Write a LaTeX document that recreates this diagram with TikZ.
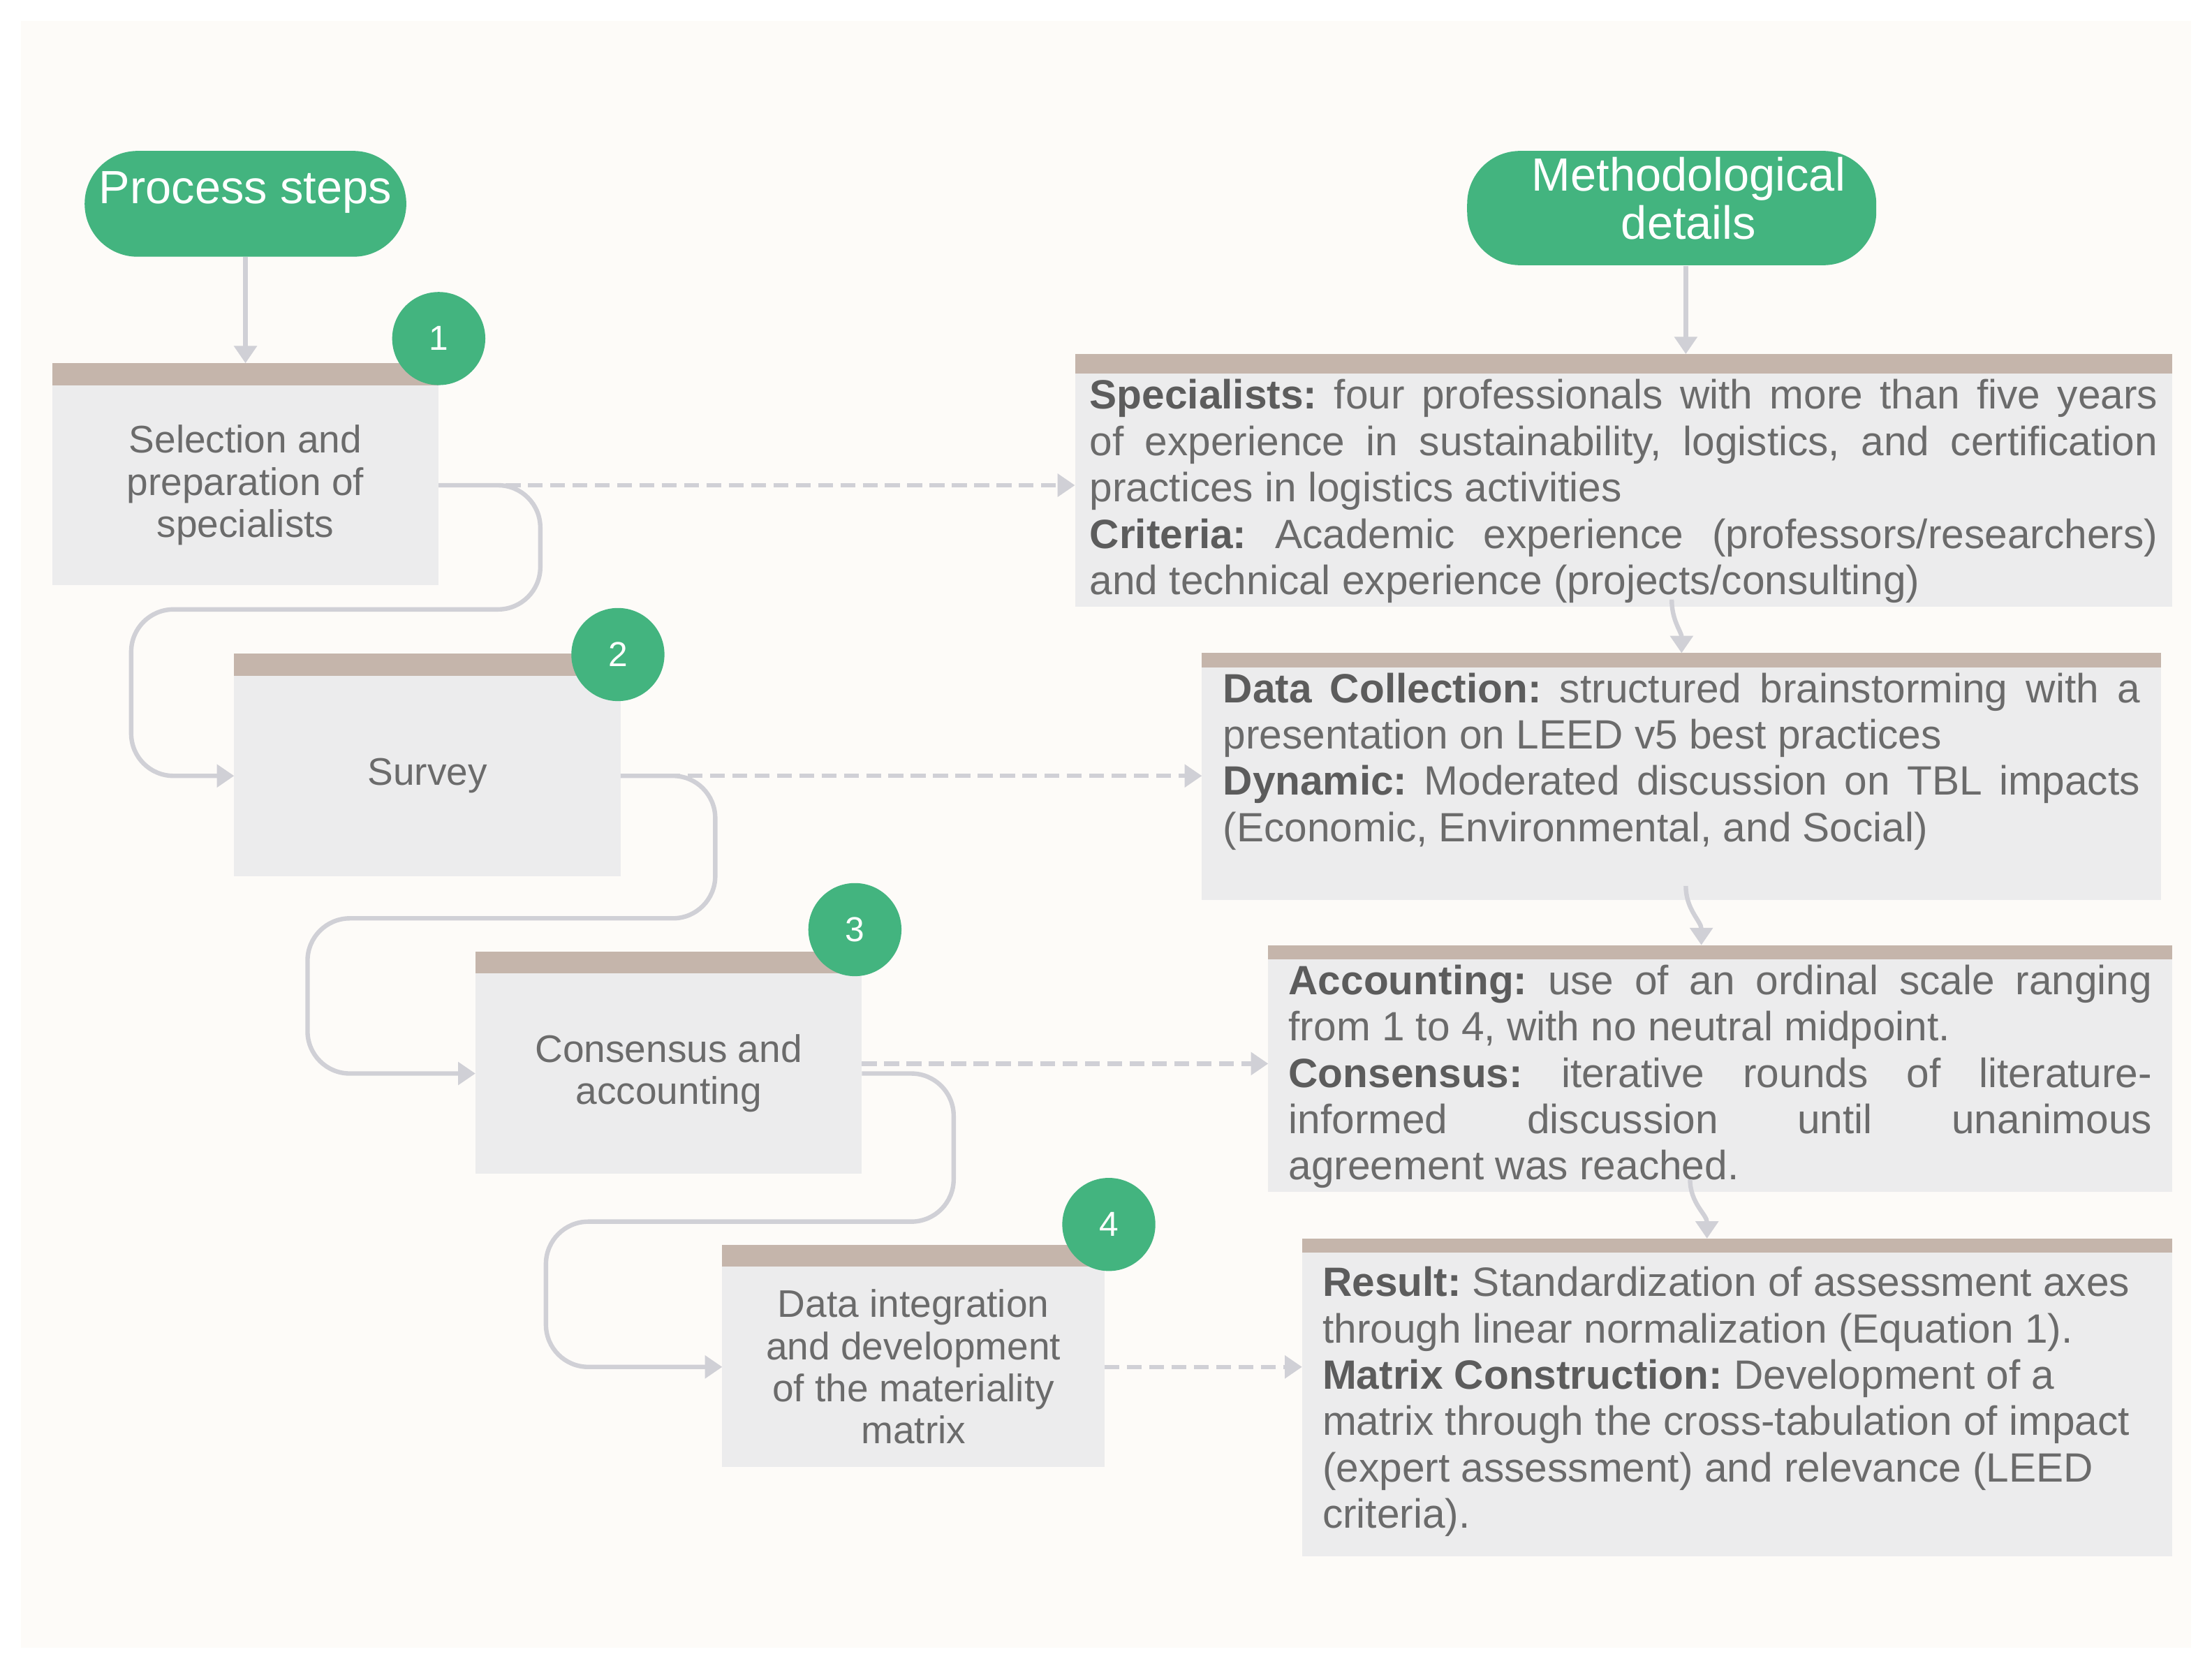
\documentclass[tikz,border=0pt]{standalone}
\usepackage{fontspec}
\setmainfont{Liberation Sans}
\usetikzlibrary{positioning,arrows.meta}
\frenchspacing

\definecolor{mintgreen}{HTML}{43B47F}
\definecolor{bartan}{HTML}{C5B5AB}
\definecolor{cardgrey}{HTML}{ECECED}
\definecolor{wiregrey}{HTML}{D0D0D6}
\definecolor{inkgrey}{HTML}{6B6B6B}
\definecolor{labelgrey}{HTML}{5C5C5C}
\definecolor{paper}{HTML}{FDFBF8}

\newcommand{\lbl}[1]{\textbf{\color{labelgrey}#1}}
\newcommand{\detailpar}[3]{\parbox[t][#1][t]{#2}{#3}}

\tikzset{
  >={Triangle[width=9pt,length=7pt]},
  pill/.style={fill=mintgreen, text=white, rounded corners=7.5mm, inner sep=0pt,
    font=\fontsize{18.8}{19}\selectfont},
  stepbox/.style={fill=cardgrey, text=inkgrey, align=center, inner sep=0pt,
    outer sep=0pt, minimum width=54.8mm, minimum height=28.4mm,
    font=\fontsize{15.5}{17}\selectfont},
  stepbar/.style={fill=bartan, inner sep=0pt, outer sep=0pt, minimum height=3.1mm},
  detailbox/.style={fill=cardgrey, text=inkgrey, anchor=north west, inner ysep=0.8mm,
    outer sep=0pt, font=\fontsize{16.5}{18.7}\selectfont},
  detailbar/.style={fill=bartan, inner sep=0pt, outer sep=0pt, minimum height=2mm},
  badge/.style={circle, fill=mintgreen, text=white, minimum size=13.2mm, inner sep=0pt,
    font=\fontsize{14}{16}\selectfont},
  flow/.style={->, draw=wiregrey, line width=1.8pt, rounded corners=6mm},
  link/.style={->, draw=wiregrey, line width=1.8pt, dash pattern=on 6pt off 3pt},
  hop/.style={->, draw=wiregrey, line width=1.8pt}
}

\begin{document}
\begin{tikzpicture}[x=0.2mm,y=0.2mm]
  \fill[white] (0,0) rectangle (1568,-1187);
  \fill[paper] (15,-15) rectangle (1553,-1168);

  % headers
  \node[pill, minimum width=45.6mm, minimum height=15mm, text height=3mm, text depth=3mm]
    (steps) at (174,-144.5) {Process steps};
  \node[pill, minimum width=58mm, minimum height=16.2mm, text height=0.5mm, text depth=5.3mm]
    (method) at (1185,-147.5)
    {\hspace*{4.8mm}\begin{tabular}[t]{@{}c@{}}Methodological\\details\end{tabular}};

  % process steps
  \node[stepbox] (b1) at (174,-344) {Selection and\\preparation of\\specialists};
  \node[stepbar, minimum width=54.8mm, above=0pt of b1] (b1bar) {};
  \node[stepbox] (b2) at (303,-550) {Survey};
  \node[stepbar, minimum width=54.8mm, above=0pt of b2] (b2bar) {};
  \node[stepbox] (b3) at (474,-761) {Consensus and\\accounting};
  \node[stepbar, minimum width=54.8mm, above=0pt of b3] (b3bar) {};
  \node[stepbox, minimum width=54.2mm] (b4) at (647.5,-969)
    {Data integration\\and development\\of the materiality\\matrix};
  \node[stepbar, minimum width=54.2mm, above=0pt of b4] (b4bar) {};

  \node[badge] (n1) at (311,-240) {1};
  \node[badge] (n2) at (438,-464) {2};
  \node[badge] (n3) at (606,-659) {3};
  \node[badge] (n4) at (786,-868) {4};

  % methodological details
  \node[detailbox, inner xsep=2.1mm] (r1) at (762,-265) {\detailpar{31.4mm}{151.4mm}{%
    \lbl{Specialists:} four professionals with more than five years\linebreak
    of experience in sustainability, logistics, and certification\linebreak
    practices in logistics activities\\
    \lbl{Criteria:} Academic experience (professors/researchers)\linebreak
    and technical experience (projects/consulting)}};
  \node[detailbar, minimum height=2.8mm, minimum width=155.6mm, above=0pt of r1] (r1bar) {};

  \node[detailbox, inner xsep=3mm] (r2) at (852,-473) {\detailpar{31.4mm}{130mm}{%
    \lbl{Data Collection:} structured brainstorming with a\linebreak
    presentation on LEED v5 best practices\\
    \lbl{Dynamic:} Moderated discussion on TBL impacts\linebreak
    (Economic, Environmental, and Social)}};
  \node[detailbar, minimum width=136mm, above=0pt of r2] (r2bar) {};

  \node[detailbox, inner xsep=2.9mm] (r3) at (899,-680) {\detailpar{31.4mm}{122.4mm}{%
    \lbl{Accounting:} use of an ordinal scale ranging\linebreak
    from 1 to 4, with no neutral midpoint.\\
    \lbl{Consensus:} iterative rounds of literature-\linebreak
    informed discussion until unanimous\linebreak
    agreement was reached.}};
  \node[detailbar, minimum width=128.2mm, above=0pt of r3] (r3bar) {};

  \node[detailbox, inner xsep=2.9mm, inner ysep=2mm] (r4) at (923,-888)
    {\detailpar{39mm}{117.6mm}{\raggedright
    \lbl{Result:} Standardization of assessment axes\\
    through linear normalization (Equation 1).\\
    \lbl{Matrix Construction:} Development of a\\
    matrix through the cross-tabulation of impact\\
    (expert assessment) and relevance (LEED\\
    criteria).}};
  \node[detailbar, minimum width=123.4mm, above=0pt of r4] (r4bar) {};

  % connectors
  \draw[hop] (steps) -- (b1bar);
  \draw[hop] ([xshift=2mm]method.south) -- ([xshift=2mm]method.south |- r1bar.north);
  \draw[hop] ([xshift=6.8mm,yshift=1mm]r1.south) to[out=-90,in=90] (r2bar.north);
  \draw[hop] ([xshift=0.6mm,yshift=2mm]r2.south) to[out=-90,in=90] ([xshift=-2.7mm]r3bar.north);
  \draw[hop] ([xshift=-4.3mm,yshift=1.8mm]r3.south) to[out=-90,in=90] ([xshift=-4.3mm]r4bar.north);

  \draw[link] (b1.east) -- (b1.east -| r1.west);
  \draw[link] (b2.east) -- (b2.east -| r2.west);
  \draw[link] ([yshift=1.4mm]b3.east) -- ([yshift=1.4mm]b3.east -| r3.west);
  \draw[link] (b4.east) -- (b4.east -| r4.west);

  \draw[flow] (b1.east) -| ++(72,-88) -| ([xshift=-14.6mm]b2.west) -- (b2.west);
  \draw[flow] (b2.east) -| ++(67,-101) -| ([xshift=-23.8mm]b3.west) -- (b3.west);
  \draw[flow] (b3.east) -| ++(65,-105) -| ([xshift=-25mm]b4.west) -- (b4.west);
\end{tikzpicture}
\end{document}
